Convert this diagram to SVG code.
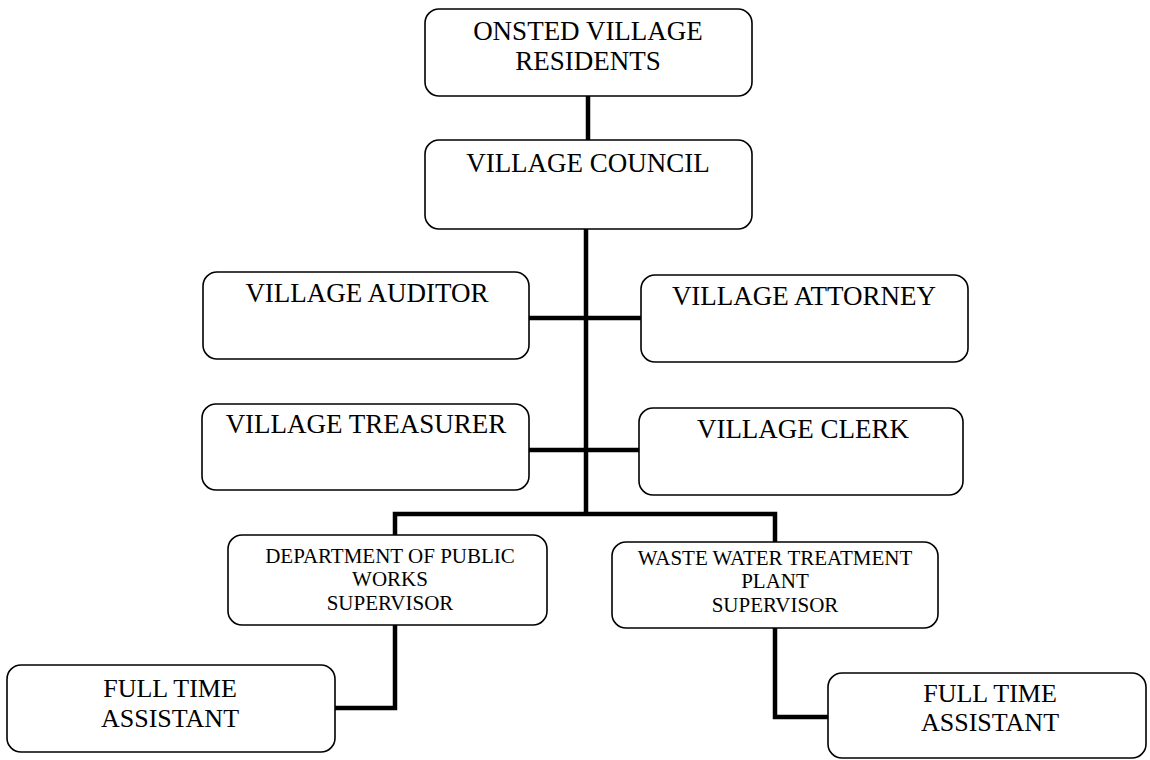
<svg xmlns="http://www.w3.org/2000/svg" width="1150" height="760" viewBox="0 0 1150 760">
<style>
.box{fill:#fff;stroke:#000;stroke-width:1.6}
.t{font-family:"Liberation Serif","Times New Roman",serif;font-size:27px;fill:#000;text-anchor:middle}
.f{font-family:"Liberation Serif","Times New Roman",serif;font-size:26px;fill:#000;text-anchor:middle}
.s{font-family:"Liberation Serif","Times New Roman",serif;font-size:21px;fill:#000;text-anchor:middle}
.c{fill:none;stroke:#000;stroke-width:4.5;stroke-linejoin:miter}
</style>
<rect width="1150" height="760" fill="#fff"/>
<g id="connectors">
<path class="c" d="M588,96 V140"/>
<path class="c" d="M586,229 V514"/>
<path class="c" d="M529,318 H641"/>
<path class="c" d="M529,450 H639"/>
<path class="c" d="M395,535 V514 H775 V542"/>
<path class="c" d="M395,625 V708 H335"/>
<path class="c" d="M775,628 V717 H828"/>
</g>
<g id="residents">
<rect class="box" x="425" y="9" width="327" height="87" rx="14"/>
<text class="t" x="588" y="40">ONSTED VILLAGE</text>
<text class="t" x="588" y="70">RESIDENTS</text>
</g>
<g id="council">
<rect class="box" x="425" y="140" width="327" height="89" rx="14"/>
<text class="t" x="588" y="172">VILLAGE COUNCIL</text>
</g>
<g id="auditor">
<rect class="box" x="203" y="272" width="326" height="87" rx="14"/>
<text class="t" x="367" y="302">VILLAGE AUDITOR</text>
</g>
<g id="attorney">
<rect class="box" x="641" y="275" width="327" height="87" rx="14"/>
<text class="t" x="804" y="305">VILLAGE ATTORNEY</text>
</g>
<g id="treasurer">
<rect class="box" x="202" y="404" width="327" height="86" rx="14"/>
<text class="t" x="366" y="433">VILLAGE TREASURER</text>
</g>
<g id="clerk">
<rect class="box" x="639" y="408" width="324" height="87" rx="14"/>
<text class="t" x="803" y="438">VILLAGE CLERK</text>
</g>
<g id="dpw">
<rect class="box" x="228" y="535" width="319" height="90" rx="14"/>
<text class="s" x="390" y="563">DEPARTMENT OF PUBLIC</text>
<text class="s" x="390" y="586">WORKS</text>
<text class="s" x="390" y="610">SUPERVISOR</text>
</g>
<g id="wwtp">
<rect class="box" x="612" y="542" width="326" height="86" rx="14"/>
<text class="s" x="775" y="565">WASTE WATER TREATMENT</text>
<text class="s" x="775" y="588">PLANT</text>
<text class="s" x="775" y="612">SUPERVISOR</text>
</g>
<g id="assistant1">
<rect class="box" x="7" y="665" width="328" height="87" rx="14"/>
<text class="f" x="170" y="697">FULL TIME</text>
<text class="f" x="170" y="727">ASSISTANT</text>
</g>
<g id="assistant2">
<rect class="box" x="828" y="673" width="318" height="85" rx="14"/>
<text class="f" x="990" y="702">FULL TIME</text>
<text class="f" x="990" y="731">ASSISTANT</text>
</g>
</svg>
